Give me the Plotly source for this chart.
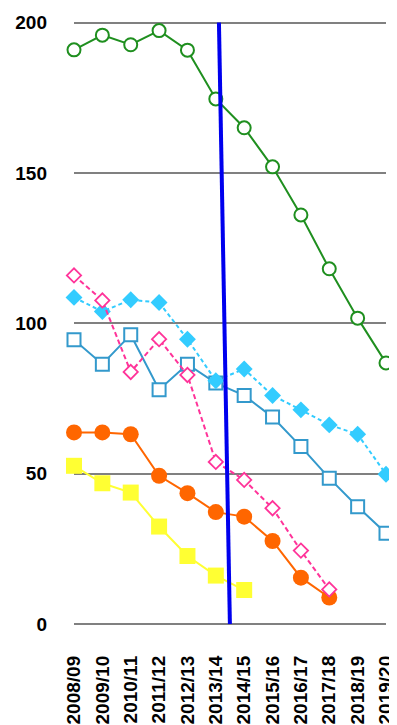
import plotly.graph_objects as go

categories = ["2008/09", "2009/10", "2010/11", "2011/12", "2012/13", "2013/14",
              "2014/15", "2015/16", "2016/17", "2017/18", "2018/19", "2019/20"]

green_open_circle = [190.9, 195.8, 192.6, 197.3, 190.8, 174.6, 165.0, 152.0, 136.0, 118.1, 101.7, 86.8]
pink_open_diamond = [115.9, 107.6, 83.8, 94.7, 82.8, 53.9, 47.9, 38.5, 24.4, 11.5, None, None]
cyan_filled_diamond = [108.6, 103.9, 107.8, 106.9, 94.7, 80.9, 84.8, 76.0, 71.2, 66.2, 63.1, 49.8]
blue_open_square = [94.5, 86.4, 96.2, 77.9, 86.4, 80.1, 76.0, 68.8, 59.0, 48.5, 39.0, 30.2]
orange_filled_circle = [63.7, 63.7, 63.1, 49.3, 43.5, 37.2, 35.7, 27.6, 15.4, 8.8, None, None]
yellow_filled_square = [52.6, 46.8, 43.7, 32.4, 22.6, 16.1, 11.3, None, None, None, None, None]

y_ticks = [0, 50, 100, 150, 200]

# vertical marker line (category-index positions)
marker_line_x = [5.11, 5.5]
marker_line_y = [200, -2]

fig = go.Figure()

def add(y, color, symbol, size, dash="solid", lw=2, mlw=2, filled=False):
    fig.add_trace(go.Scatter(
        x=categories, y=y, mode="lines+markers", cliponaxis=False,
        line=dict(color=color, width=lw, dash=dash),
        marker=dict(symbol=symbol, size=size,
                    color=color if filled else "white",
                    line=dict(color=color, width=0 if filled else mlw)),
        showlegend=False, connectgaps=False))

add(yellow_filled_square, "#ffff33", "square", 16, filled=True)
add(orange_filled_circle, "#ff6600", "circle", 16, filled=True)
add(blue_open_square, "#3399cc", "square", 13)
add(cyan_filled_diamond, "#33ccff", "diamond", 13, dash="4px,3px", filled=True)
add(pink_open_diamond, "#ff3399", "diamond", 11, dash="5px,3px", mlw=1.8)
add(green_open_circle, "#1f8f1f", "circle", 13)

fig.add_shape(type="line", xref="x", yref="y",
              x0=marker_line_x[0], y0=marker_line_y[0],
              x1=marker_line_x[1], y1=marker_line_y[1],
              line=dict(color="#0000ee", width=4))

fig.update_layout(
    width=389, height=717,
    margin=dict(l=66, r=11, t=13, b=101, autoexpand=False),
    paper_bgcolor="white", plot_bgcolor="white",
    font=dict(family="Liberation Sans, Arial, sans-serif", color="black"),
)
fig.update_xaxes(type="category", range=[0, 11], showgrid=False, zeroline=False,
                 showline=False, tickangle=-90, ticks="", ticklabelstandoff=27,
                 automargin=False,
                 tickfont=dict(size=19, color="black", weight="bold"))
fig.update_yaxes(range=[0, 200.5], tickvals=y_ticks, showgrid=True,
                 gridcolor="#808080", gridwidth=1.8, zeroline=True,
                 zerolinecolor="#808080", zerolinewidth=1.8, showline=False,
                 ticks="", ticklabelstandoff=26, automargin=False,
                 tickfont=dict(size=19, color="black", weight="bold"))

fig.write_html("out.html")
